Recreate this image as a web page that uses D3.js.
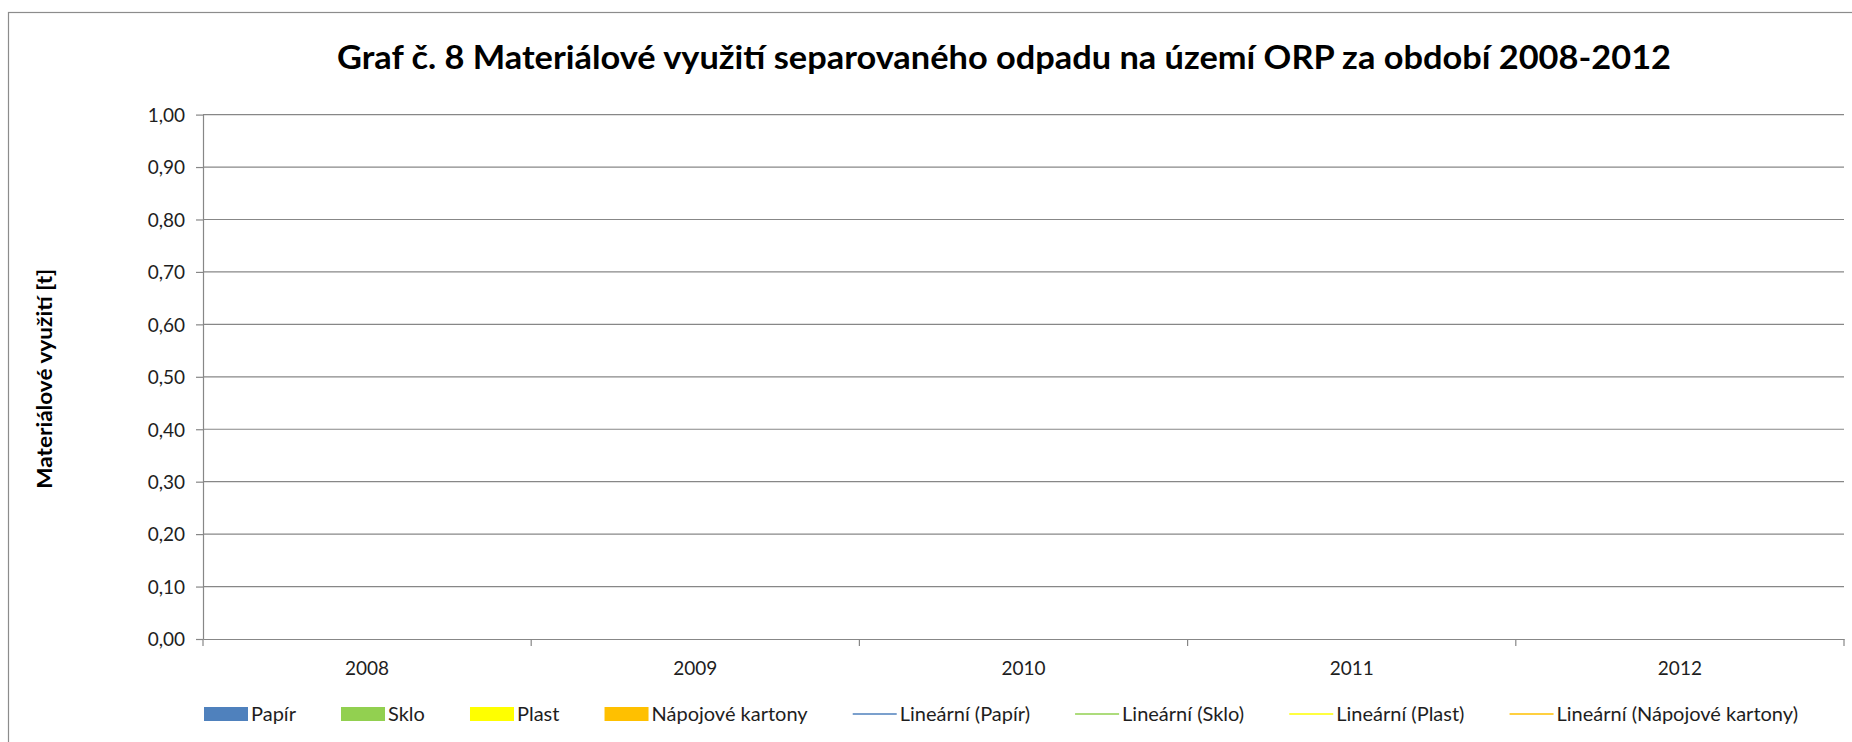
<!DOCTYPE html>
<html lang="cs">
<head>
<meta charset="utf-8">
<title>Graf č. 8 Materiálové využití separovaného odpadu</title>
<script src="https://cdn.jsdelivr.net/npm/d3@7"></script>
<style>
  html, body { margin: 0; padding: 0; background: #fff; }
  svg { display: block; }
  text { font-family: Lato, "Open Sans", "DejaVu Sans", sans-serif; }
</style>
</head>
<body>
<svg id="chart" width="1852" height="742"></svg>
<script>
// ---- data -------------------------------------------------------------
const years = ["2008", "2009", "2010", "2011", "2012"];
const yTicks = [0, 0.1, 0.2, 0.3, 0.4, 0.5, 0.6, 0.7, 0.8, 0.9, 1.0];
// tonnes of material recovered per year (no values reported for the period)
const papir = [null, null, null, null, null];
const sklo = [null, null, null, null, null];
const plast = [null, null, null, null, null];
const napojoveKartony = [null, null, null, null, null];
const seriesNames = ["Papír", "Sklo", "Plast", "Nápojové kartony"];
const seriesColors = ["#4F81BD", "#92D050", "#FFFF00", "#FFC000"];

const chartTitle = "Graf č. 8 Materiálové využití separovaného odpadu na území ORP za období 2008-2012";
const yTitle = "Materiálové využití [t]";

// ---- layout -----------------------------------------------------------
const W = 1852, H = 742;
const plot = { left: 203, right: 1844, top: 114.6, bottom: 639 };
const gridColor = "#878787";
const textColor = "#1e1e1e";

const svg = d3.select("#chart");

// chart frame (runs past the right and bottom edges)
svg.append("rect")
  .attr("x", 8.5).attr("y", 12.5)
  .attr("width", W + 20).attr("height", H + 20)
  .attr("fill", "#fff")
  .attr("stroke", "#8c8c8c").attr("stroke-width", 1.2);

const series = seriesNames.map((name, i) => ({
  name,
  color: seriesColors[i],
  values: [papir, sklo, plast, napojoveKartony][i]
}));

const x = d3.scaleBand().domain(years).range([plot.left, plot.right]).padding(0);
const xInner = d3.scaleBand().domain(seriesNames).range([0, x.bandwidth()]).paddingInner(0).paddingOuter(0.6);
const y = d3.scaleLinear().domain([0, 1]).range([plot.bottom, plot.top]);

const csLocale = d3.formatLocale({ decimal: ",", thousands: " ", grouping: [3], currency: ["", " Kč"] });
const fmt = csLocale.format(".2f");

// horizontal gridlines
svg.append("g")
  .selectAll("line")
  .data(yTicks.filter(t => t > 0))
  .join("line")
  .attr("x1", plot.left).attr("x2", plot.right)
  .attr("y1", d => y(d)).attr("y2", d => y(d))
  .attr("stroke", gridColor).attr("stroke-width", 1.2);

// bars
const barG = svg.append("g");
series.forEach(s => {
  barG.selectAll(null)
    .data(years.map((yr, i) => ({ yr, v: s.values[i] })).filter(d => d.v != null))
    .join("rect")
    .attr("x", d => x(d.yr) + xInner(s.name))
    .attr("width", xInner.bandwidth())
    .attr("y", d => y(d.v))
    .attr("height", d => y(0) - y(d.v))
    .attr("fill", s.color);
});

// linear trend lines
series.forEach(s => {
  const pts = years.map((yr, i) => ({ i, v: s.values[i] })).filter(d => d.v != null);
  if (pts.length < 2) return;
  const mx = d3.mean(pts, d => d.i), my = d3.mean(pts, d => d.v);
  const k = d3.sum(pts, d => (d.i - mx) * (d.v - my)) / d3.sum(pts, d => (d.i - mx) ** 2);
  const fit = i => my + k * (i - mx);
  const cx = i => x(years[i]) + x.bandwidth() / 2;
  svg.append("line")
    .attr("x1", cx(0)).attr("x2", cx(years.length - 1))
    .attr("y1", y(fit(0))).attr("y2", y(fit(years.length - 1)))
    .attr("stroke", s.color).attr("stroke-width", 1.5);
});

// y axis
const yAxis = d3.axisLeft(y).tickValues(yTicks).tickFormat(fmt).tickSizeInner(7).tickSizeOuter(0).tickPadding(11);
const yG = svg.append("g").attr("transform", `translate(${plot.left},0)`).call(yAxis);
yG.select(".domain").attr("stroke", gridColor).attr("stroke-width", 1.2);
yG.selectAll(".tick line").attr("stroke", gridColor).attr("stroke-width", 1.2);
yG.selectAll(".tick text")
  .attr("fill", textColor)
  .style("font-size", "19px")
  .attr("dy", "0.36em");

// x axis: ticks sit on the category boundaries
const xAxis = d3.axisBottom(x).tickSize(0).tickPadding(23);
const xG = svg.append("g").attr("transform", `translate(0,${plot.bottom})`).call(xAxis);
xG.select(".domain").attr("stroke", gridColor).attr("stroke-width", 1.2);
xG.selectAll(".tick text")
  .attr("fill", textColor)
  .style("font-size", "19px");
xG.selectAll(".boundary")
  .data(d3.range(years.length + 1))
  .join("line")
  .attr("class", "boundary")
  .attr("x1", i => plot.left + i * x.step()).attr("x2", i => plot.left + i * x.step())
  .attr("y1", 0).attr("y2", 7)
  .attr("stroke", gridColor).attr("stroke-width", 1.2);

// title, squeezed slightly to the width of the heading line
const titleEl = svg.append("text")
  .attr("x", 337).attr("y", 69)
  .attr("fill", "#000")
  .style("font-size", "33px").style("font-weight", 700)
  .text(chartTitle);
titleEl.attr("textLength", 1334).attr("lengthAdjust", "spacingAndGlyphs");

// y axis title
svg.append("text")
  .attr("transform", `translate(52,${(plot.top + plot.bottom) / 2 + 2}) rotate(-90)`)
  .attr("text-anchor", "middle")
  .attr("fill", "#000")
  .style("font-size", "20px").style("font-weight", 700)
  .attr("textLength", 220).attr("lengthAdjust", "spacingAndGlyphs")
  .text(yTitle);

// legend: colour swatches for the bars, short lines for the trends
const legendItems = [
  ...series.map(s => ({ label: s.name, color: s.color, kind: "box" })),
  ...series.map(s => ({ label: `Lineární (${s.name})`, color: s.color, kind: "line" }))
];
const legend = svg.append("g").attr("transform", "translate(0,714)");
const keyW = 44, keyGap = 3;
const itemsG = legend.selectAll("g").data(legendItems).join("g");
itemsG.each(function (d) {
  const g = d3.select(this);
  if (d.kind === "box") {
    g.append("rect").attr("x", 0).attr("y", -7).attr("width", keyW).attr("height", 14).attr("fill", d.color);
  } else {
    g.append("line").attr("x1", 0).attr("x2", keyW).attr("y1", 0).attr("y2", 0)
      .attr("stroke", d.color).attr("stroke-width", 1.5);
  }
  const t = g.append("text")
    .attr("x", keyW + keyGap).attr("y", 0).attr("dy", "0.36em")
    .attr("fill", textColor).style("font-size", "20px")
    .text(d.label);
  d.w = keyW + keyGap + t.node().getComputedTextLength();
});
const legendStart = 204, legendEnd = 1798;
const totalW = d3.sum(legendItems, d => d.w);
const gap = (legendEnd - legendStart - totalW) / (legendItems.length - 1);
let cursor = legendStart;
itemsG.attr("transform", d => { const tx = cursor; cursor += d.w + gap; return `translate(${tx},0)`; });
</script>
</body>
</html>
